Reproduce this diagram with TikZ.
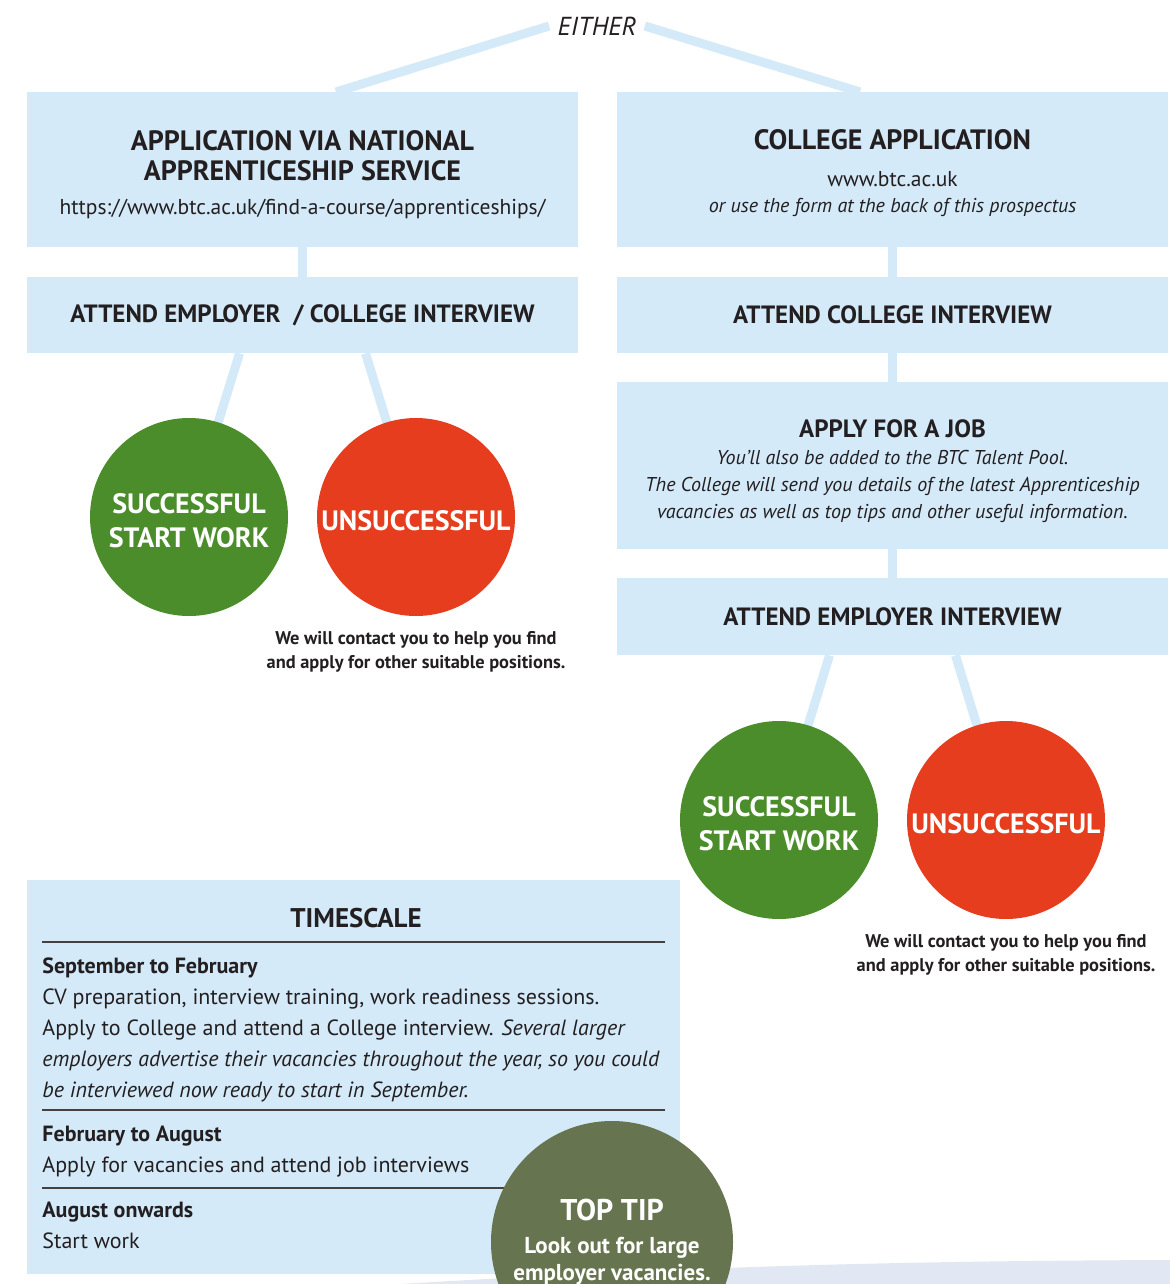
\documentclass[tikz,border=0pt]{standalone}
\usepackage{fontspec}
\setmainfont{PT Sans}
\usepackage{tikz}
\usetikzlibrary{calc,backgrounds}

\definecolor{boxblue}{HTML}{D4EAF9}
\definecolor{okgreen}{HTML}{4B8D2B}
\definecolor{nored}{HTML}{E53D1E}
\definecolor{tipgreen}{HTML}{66744F}
\definecolor{wave}{HTML}{E2E7F4}
\definecolor{ink}{HTML}{231F20}

\newcommand{\boxtitle}{\fontsize{14}{15}\selectfont\bfseries}
\newcommand{\stagetitle}{\fontsize{12.5}{15}\selectfont\bfseries}
\newcommand{\boxsmall}{\fontsize{10.75}{15}\selectfont}
\newcommand{\boxnote}{\fontsize{10}{13.5}\selectfont\itshape}
\newcommand{\topstrut}[1]{\rule{0pt}{#1}}

\begin{document}
\begin{tikzpicture}[x=0.5pt,y=-0.5pt,
    box/.style={fill=boxblue, text=ink, minimum width=275.5pt, inner sep=0pt, align=center},
    link/.style={draw=boxblue, line width=4.5pt},
    ball/.style={circle, minimum size=99pt, inner sep=0pt, text=white, align=center, font=\fontsize{14}{17}\selectfont\bfseries},
    note/.style={text=ink, align=center, font=\fontsize{9.2}{12}\selectfont\bfseries},
    rule/.style={draw=ink!85, line width=0.7pt},
    period/.style={text=ink, anchor=north west, inner sep=0pt, align=left, font=\fontsize{11}{15.5}\selectfont}]

%the page
    \useasboundingbox (0,0) rectangle (1170,1284);
    \clip (0,0) rectangle (1170,1284);
    \fill[wave] (400,1284) .. controls (700,1266) and (900,1261) .. (1170,1260) -- (1170,1284) -- cycle;

%the start
    \node[text=ink, font=\fontsize{13}{15}\selectfont\itshape, inner sep=4pt] (either) at (597,26) {EITHER};
    \coordinate (l0) at (336,92);
    \coordinate (r0) at (860,92);

%the left branch
    \node[box, minimum height=77.5pt, font=\fontsize{14}{15}\selectfont] (nas) at (302.5,169.5) {\boxtitle\topstrut{15pt}APPLICATION VIA NATIONAL\\ \boxtitle APPRENTICESHIP SERVICE\\[2pt] \boxsmall https://www.btc.ac.uk/find-a-course/apprenticeships/};
    \node[box, minimum height=38pt] (iv1) at (302.5,315) {\stagetitle ATTEND EMPLOYER~~/ COLLEGE INTERVIEW};
    \node[ball, fill=okgreen] (ok1) at (189,517) {\topstrut{14pt}SUCCESSFUL\\START WORK};
    \node[ball, fill=nored] (no1) at (416,517) {\topstrut{14pt}UNSUCCESSFUL};
    \node[note] (help1) at (416,652) {We will contact you to help you find\\and apply for other suitable positions.};

%the right branch
    \node[box, minimum height=77.5pt, font=\fontsize{14}{13}\selectfont] (col) at (892.5,169.5) {\boxtitle\topstrut{14pt}COLLEGE APPLICATION\\[5.5pt] \boxsmall www.btc.ac.uk\\ \boxnote or use the form at the back of this prospectus};
    \node[box, minimum height=38pt] (iv2) at (892.5,315) {\stagetitle ATTEND COLLEGE INTERVIEW};
    \node[box, minimum height=83.5pt, font=\fontsize{12.5}{13.5}\selectfont] (job) at (892.5,465.5) {\stagetitle\topstrut{14.5pt}APPLY FOR A JOB\\ \boxnote You’ll also be added to the BTC Talent Pool.\\ \boxnote The College will send you details of the latest Apprenticeship\\ \boxnote vacancies as well as top tips and other useful information.};
    \node[box, minimum height=38.5pt] (iv3) at (892.5,616.5) {\stagetitle ATTEND EMPLOYER INTERVIEW};
    \node[ball, fill=okgreen] (ok2) at (779,820) {\topstrut{14pt}SUCCESSFUL\\START WORK};
    \node[ball, fill=nored] (no2) at (1006,820) {\topstrut{14pt}UNSUCCESSFUL};
    \node[note] (help2) at (1006,955) {We will contact you to help you find\\and apply for other suitable positions.};

%the connectors
\begin{scope}[on background layer]
    \draw[link] (either.west) -- (l0);
    \draw[link] (either.east) -- (r0);
    \draw[link] (nas.south) -- (iv1.north);
    \draw[link] ($(iv1.south)+(-63,0)$) -- (ok1.center);
    \draw[link] ($(iv1.south)+(63,0)$) -- (no1.center);
    \draw[link] (col.south) -- (iv2.north);
    \draw[link] (iv2.south) -- (job.north);
    \draw[link] (job.south) -- (iv3.north);
    \draw[link] ($(iv3.south)+(-63,0)$) -- (ok2.center);
    \draw[link] ($(iv3.south)+(63,0)$) -- (no2.center);
\end{scope}

%the timescale
    \node[box, minimum width=326.5pt, minimum height=197pt] (time) at (353.5,1077) {};
    \node[text=ink, font=\fontsize{13.5}{15}\selectfont\bfseries] (timehead) at (356,918) {TIMESCALE};
    \draw[rule] (42,942) -- (665,942);
    \node[period] (sep) at (42,957) {\bfseries September to February\\ CV preparation, interview training, work readiness sessions.\\ Apply to College and attend a College interview. \itshape Several larger\\ \itshape employers advertise their vacancies throughout the year, so you could\\ \itshape be interviewed now ready to start in September.};
    \draw[rule] (42,1110) -- (665,1110);
    \node[period] (feb) at (42,1126) {\bfseries February to August\\ Apply for vacancies and attend job interviews};
    \draw[rule] (42,1188) -- (665,1188);
    \node[period] (aug) at (42,1202) {\bfseries August onwards\\ Start work};

%the tip
    \node[circle, fill=tipgreen, minimum size=121pt, inner sep=0pt, text=white, align=center, font=\fontsize{11.5}{13.5}\selectfont\bfseries] (tip) at (612,1242) {{\fontsize{15}{18}\selectfont TOP TIP}\\[3pt] Look out for large\\ employer vacancies.};
\end{tikzpicture}
\end{document}
